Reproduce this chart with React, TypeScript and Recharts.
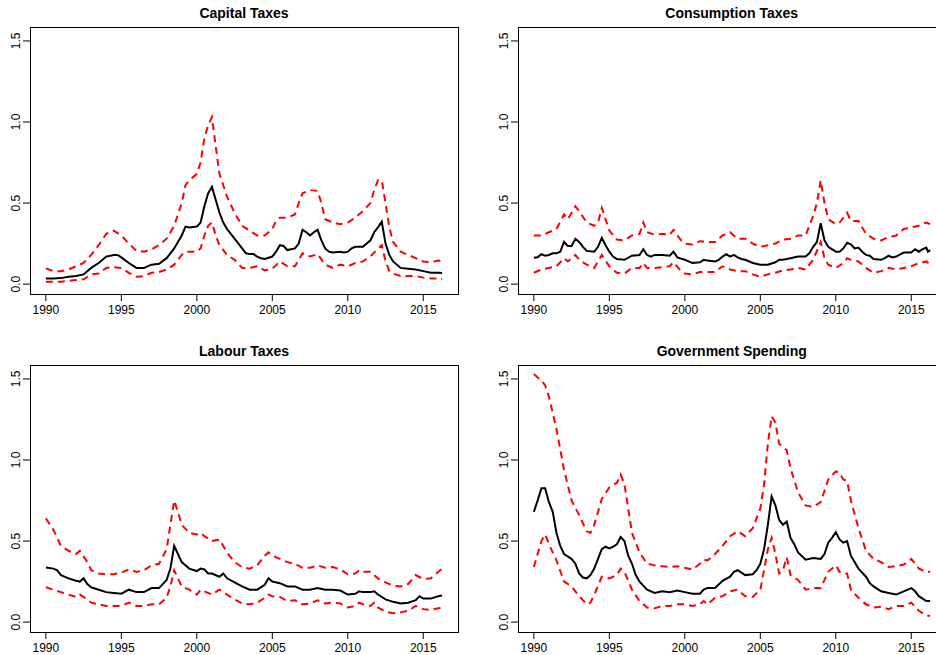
import React from "react"
import { LineChart, Line, XAxis, YAxis } from "recharts"

type Pt = [number, number]

const xTicks = [1990, 1995, 2000, 2005, 2010, 2015]
const yTicks = [0, 0.5, 1, 1.5]
const yTickLabels = ["0.0", "0.5", "1.0", "1.5"]
const xDomain: [number, number] = [1988.95, 2017.3]
const yDomain: [number, number] = [-0.061, 1.586]

const capitalMid: Pt[] = [
  [1990, 0.035], [1990.5, 0.035], [1991, 0.037], [1991.5, 0.045], [1992, 0.05], [1992.5, 0.06], [1993, 0.1], [1993.5, 0.13],
  [1994, 0.17], [1994.5, 0.18], [1994.75, 0.18], [1995, 0.165], [1995.5, 0.13], [1996, 0.1], [1996.5, 0.1], [1997, 0.12],
  [1997.5, 0.125], [1998, 0.16], [1998.5, 0.22], [1999, 0.3], [1999.25, 0.355], [1999.5, 0.35], [2000, 0.355], [2000.25, 0.38],
  [2000.5, 0.48], [2000.75, 0.56], [2001, 0.6], [2001.25, 0.52], [2001.5, 0.44], [2001.75, 0.38], [2002, 0.34], [2002.5, 0.28],
  [2003, 0.22], [2003.25, 0.19], [2003.5, 0.185], [2003.75, 0.185], [2004, 0.17], [2004.25, 0.16], [2004.5, 0.155], [2005, 0.17],
  [2005.25, 0.2], [2005.5, 0.24], [2005.75, 0.235], [2006, 0.21], [2006.5, 0.22], [2006.75, 0.25], [2007, 0.335], [2007.25, 0.32],
  [2007.5, 0.3], [2007.75, 0.32], [2008, 0.335], [2008.25, 0.27], [2008.5, 0.22], [2008.75, 0.2], [2009, 0.195], [2009.5, 0.2],
  [2009.75, 0.195], [2010, 0.2], [2010.25, 0.22], [2010.5, 0.23], [2011, 0.23], [2011.5, 0.27], [2011.75, 0.32], [2012, 0.35],
  [2012.25, 0.385], [2012.5, 0.25], [2012.75, 0.18], [2013, 0.14], [2013.5, 0.1], [2014, 0.095], [2014.5, 0.09], [2015, 0.08],
  [2015.5, 0.07], [2016, 0.07], [2016.25, 0.068],
]
const capitalHigh: Pt[] = [
  [1990, 0.097], [1990.5, 0.08], [1991, 0.08], [1991.5, 0.09], [1992, 0.11], [1992.5, 0.13], [1993, 0.18], [1993.5, 0.24],
  [1994, 0.31], [1994.5, 0.33], [1995, 0.3], [1995.5, 0.25], [1996, 0.205], [1996.5, 0.2], [1997, 0.215], [1997.5, 0.24],
  [1998, 0.28], [1998.5, 0.36], [1999, 0.5], [1999.25, 0.61], [1999.5, 0.64], [2000, 0.68], [2000.25, 0.75], [2000.5, 0.9],
  [2000.75, 0.98], [2001, 1.03], [2001.25, 0.85], [2001.5, 0.68], [2002, 0.54], [2002.5, 0.44], [2003, 0.36], [2003.5, 0.33],
  [2004, 0.3], [2004.5, 0.3], [2005, 0.34], [2005.25, 0.39], [2005.5, 0.41], [2006, 0.41], [2006.5, 0.43], [2006.75, 0.5],
  [2007, 0.56], [2007.5, 0.58], [2008, 0.575], [2008.25, 0.5], [2008.5, 0.4], [2009, 0.38], [2009.5, 0.37], [2010, 0.38],
  [2010.5, 0.41], [2011, 0.45], [2011.5, 0.5], [2011.75, 0.58], [2012, 0.64], [2012.25, 0.64], [2012.5, 0.5], [2012.75, 0.35],
  [2013, 0.26], [2013.5, 0.2], [2014, 0.18], [2014.5, 0.16], [2015, 0.14], [2015.5, 0.135], [2016, 0.145], [2016.25, 0.14],
]
const capitalLow: Pt[] = [
  [1990, 0.015], [1991, 0.015], [1991.5, 0.02], [1992, 0.025], [1992.5, 0.03], [1993, 0.06], [1993.5, 0.065], [1994, 0.1],
  [1994.5, 0.105], [1995, 0.1], [1995.5, 0.07], [1996, 0.045], [1996.5, 0.05], [1997, 0.07], [1997.5, 0.075], [1998, 0.09],
  [1998.5, 0.12], [1999, 0.18], [1999.25, 0.2], [1999.5, 0.2], [2000, 0.2], [2000.25, 0.22], [2000.5, 0.3], [2000.75, 0.36],
  [2001, 0.38], [2001.25, 0.3], [2001.5, 0.24], [2002, 0.18], [2002.5, 0.15], [2003, 0.1], [2003.5, 0.1], [2004, 0.11],
  [2004.5, 0.085], [2005, 0.095], [2005.5, 0.14], [2006, 0.11], [2006.5, 0.11], [2007, 0.19], [2007.5, 0.17], [2008, 0.185],
  [2008.5, 0.12], [2009, 0.1], [2009.5, 0.12], [2010, 0.11], [2010.5, 0.13], [2011, 0.14], [2011.5, 0.17], [2012, 0.22],
  [2012.25, 0.24], [2012.5, 0.14], [2012.75, 0.08], [2013, 0.065], [2013.5, 0.05], [2014, 0.05], [2014.5, 0.05], [2015, 0.04],
  [2015.5, 0.035], [2016, 0.035], [2016.25, 0.03],
]

const consumptionMid: Pt[] = [
  [1990, 0.163], [1990.25, 0.165], [1990.5, 0.185], [1990.75, 0.175], [1991, 0.18], [1991.25, 0.19], [1991.5, 0.19], [1991.75, 0.2],
  [1992, 0.26], [1992.25, 0.235], [1992.5, 0.235], [1992.75, 0.28], [1993, 0.26], [1993.25, 0.23], [1993.5, 0.205], [1994, 0.2],
  [1994.25, 0.23], [1994.5, 0.285], [1994.75, 0.24], [1995, 0.2], [1995.25, 0.17], [1995.5, 0.155], [1996, 0.15], [1996.5, 0.175],
  [1997, 0.18], [1997.25, 0.215], [1997.5, 0.18], [1997.75, 0.17], [1998, 0.18], [1998.5, 0.18], [1999, 0.175], [1999.25, 0.2],
  [1999.5, 0.165], [2000, 0.15], [2000.25, 0.14], [2000.5, 0.13], [2001, 0.135], [2001.25, 0.15], [2001.5, 0.145], [2002, 0.14],
  [2002.25, 0.15], [2002.5, 0.17], [2002.75, 0.185], [2003, 0.17], [2003.25, 0.18], [2003.5, 0.165], [2003.75, 0.155], [2004, 0.15],
  [2004.5, 0.13], [2005, 0.12], [2005.5, 0.12], [2006, 0.135], [2006.25, 0.15], [2006.5, 0.15], [2007, 0.16], [2007.5, 0.17],
  [2008, 0.17], [2008.25, 0.19], [2008.5, 0.23], [2008.75, 0.26], [2009, 0.375], [2009.25, 0.27], [2009.5, 0.23], [2010, 0.2],
  [2010.25, 0.2], [2010.5, 0.22], [2010.75, 0.255], [2011, 0.245], [2011.25, 0.22], [2011.5, 0.225], [2011.75, 0.2], [2012, 0.18],
  [2012.25, 0.175], [2012.5, 0.155], [2013, 0.15], [2013.25, 0.16], [2013.5, 0.175], [2013.75, 0.165], [2014, 0.17], [2014.5, 0.195],
  [2015, 0.195], [2015.25, 0.215], [2015.5, 0.2], [2015.75, 0.215], [2016, 0.225], [2016.1, 0.2], [2016.25, 0.21],
]
const consumptionHigh: Pt[] = [
  [1990, 0.3], [1990.5, 0.3], [1991, 0.32], [1991.5, 0.34], [1992, 0.43], [1992.25, 0.4], [1992.75, 0.48], [1993, 0.45],
  [1993.5, 0.38], [1994, 0.36], [1994.25, 0.38], [1994.5, 0.47], [1994.75, 0.4], [1995, 0.33], [1995.5, 0.275], [1996, 0.27],
  [1996.5, 0.3], [1997, 0.31], [1997.25, 0.38], [1997.5, 0.32], [1998, 0.305], [1998.5, 0.31], [1999, 0.305], [1999.25, 0.335],
  [1999.75, 0.27], [2000, 0.25], [2000.5, 0.245], [2001, 0.265], [2001.5, 0.26], [2002, 0.26], [2002.5, 0.3], [2003, 0.32],
  [2003.5, 0.28], [2004, 0.28], [2004.5, 0.25], [2005, 0.23], [2005.5, 0.24], [2006, 0.25], [2006.5, 0.275], [2007, 0.28],
  [2007.5, 0.3], [2008, 0.3], [2008.5, 0.42], [2008.75, 0.5], [2009, 0.64], [2009.25, 0.5], [2009.5, 0.4], [2010, 0.37],
  [2010.25, 0.38], [2010.75, 0.44], [2011, 0.39], [2011.5, 0.39], [2012, 0.31], [2012.5, 0.28], [2013, 0.27], [2013.5, 0.29],
  [2014, 0.3], [2014.5, 0.34], [2015, 0.35], [2015.5, 0.36], [2016, 0.38], [2016.25, 0.37],
]
const consumptionLow: Pt[] = [
  [1990, 0.07], [1990.5, 0.09], [1991, 0.1], [1991.5, 0.11], [1992, 0.16], [1992.25, 0.14], [1992.75, 0.18], [1993, 0.15],
  [1993.5, 0.12], [1994, 0.1], [1994.5, 0.18], [1995, 0.11], [1995.5, 0.07], [1996, 0.065], [1996.5, 0.1], [1997, 0.1],
  [1997.25, 0.13], [1997.5, 0.1], [1998, 0.1], [1998.5, 0.105], [1999, 0.11], [1999.25, 0.135], [1999.75, 0.08], [2000, 0.065],
  [2000.5, 0.06], [2001, 0.075], [2001.5, 0.075], [2002, 0.075], [2002.5, 0.11], [2003, 0.09], [2003.5, 0.08], [2004, 0.08],
  [2004.5, 0.06], [2005, 0.045], [2005.5, 0.06], [2006, 0.07], [2006.5, 0.085], [2007, 0.09], [2007.5, 0.1], [2008, 0.09],
  [2008.5, 0.15], [2009, 0.26], [2009.25, 0.16], [2009.5, 0.12], [2010, 0.1], [2010.5, 0.13], [2010.75, 0.16], [2011, 0.15],
  [2011.5, 0.14], [2012, 0.1], [2012.5, 0.07], [2013, 0.08], [2013.5, 0.1], [2014, 0.09], [2014.5, 0.1], [2015, 0.11],
  [2015.5, 0.13], [2016, 0.14], [2016.25, 0.12],
]

const labourMid: Pt[] = [
  [1990, 0.337], [1990.5, 0.33], [1990.75, 0.32], [1991, 0.29], [1991.5, 0.27], [1992, 0.255], [1992.25, 0.25], [1992.5, 0.27],
  [1992.75, 0.235], [1993, 0.215], [1993.5, 0.2], [1994, 0.185], [1994.5, 0.18], [1995, 0.175], [1995.5, 0.2], [1996, 0.185],
  [1996.5, 0.185], [1997, 0.21], [1997.5, 0.21], [1998, 0.26], [1998.25, 0.33], [1998.5, 0.47], [1998.75, 0.42], [1999, 0.37],
  [1999.5, 0.33], [2000, 0.315], [2000.25, 0.33], [2000.5, 0.325], [2000.75, 0.3], [2001, 0.3], [2001.5, 0.28], [2001.75, 0.3],
  [2002, 0.27], [2002.5, 0.245], [2003, 0.22], [2003.5, 0.2], [2004, 0.2], [2004.5, 0.23], [2004.75, 0.27], [2005, 0.25],
  [2005.5, 0.24], [2006, 0.22], [2006.5, 0.22], [2007, 0.2], [2007.5, 0.2], [2008, 0.21], [2008.5, 0.2], [2009, 0.2],
  [2009.5, 0.195], [2010, 0.17], [2010.5, 0.175], [2010.75, 0.19], [2011, 0.185], [2011.5, 0.185], [2011.75, 0.19], [2012, 0.17],
  [2012.5, 0.14], [2013, 0.125], [2013.5, 0.115], [2014, 0.12], [2014.5, 0.135], [2014.75, 0.16], [2015, 0.145], [2015.5, 0.145],
  [2016, 0.16], [2016.25, 0.165],
]
const labourHigh: Pt[] = [
  [1990, 0.64], [1990.5, 0.57], [1991, 0.47], [1991.5, 0.44], [1992, 0.42], [1992.25, 0.44], [1992.75, 0.37], [1993, 0.32],
  [1993.5, 0.3], [1994, 0.295], [1994.5, 0.295], [1995, 0.305], [1995.5, 0.325], [1996, 0.31], [1996.5, 0.32], [1997, 0.35],
  [1997.5, 0.36], [1998, 0.45], [1998.25, 0.6], [1998.5, 0.75], [1998.75, 0.68], [1999, 0.6], [1999.5, 0.55], [2000, 0.54],
  [2000.25, 0.55], [2000.5, 0.53], [2001, 0.5], [2001.5, 0.51], [2002, 0.43], [2002.5, 0.37], [2003, 0.34], [2003.5, 0.33],
  [2004, 0.35], [2004.5, 0.41], [2004.75, 0.43], [2005, 0.41], [2005.5, 0.39], [2006, 0.37], [2006.5, 0.36], [2007, 0.335],
  [2007.5, 0.335], [2008, 0.35], [2008.5, 0.335], [2009, 0.34], [2009.5, 0.325], [2010, 0.295], [2010.5, 0.3], [2010.75, 0.32],
  [2011, 0.31], [2011.5, 0.31], [2012, 0.27], [2012.5, 0.245], [2013, 0.225], [2013.5, 0.22], [2014, 0.235], [2014.5, 0.29],
  [2015, 0.265], [2015.5, 0.27], [2016, 0.31], [2016.25, 0.33],
]
const labourLow: Pt[] = [
  [1990, 0.215], [1990.5, 0.2], [1991, 0.185], [1991.5, 0.17], [1992, 0.155], [1992.25, 0.17], [1992.75, 0.14], [1993, 0.12],
  [1993.5, 0.11], [1994, 0.1], [1994.5, 0.1], [1995, 0.1], [1995.5, 0.12], [1996, 0.1], [1996.5, 0.1], [1997, 0.11],
  [1997.5, 0.11], [1998, 0.15], [1998.25, 0.22], [1998.5, 0.32], [1998.75, 0.27], [1999, 0.22], [1999.5, 0.2], [2000, 0.17],
  [2000.25, 0.2], [2000.5, 0.19], [2001, 0.17], [2001.5, 0.2], [2002, 0.17], [2002.5, 0.14], [2003, 0.115], [2003.5, 0.11],
  [2004, 0.12], [2004.5, 0.15], [2004.75, 0.17], [2005, 0.16], [2005.5, 0.155], [2006, 0.13], [2006.5, 0.135], [2007, 0.11],
  [2007.5, 0.115], [2008, 0.135], [2008.5, 0.115], [2009, 0.12], [2009.5, 0.115], [2010, 0.09], [2010.5, 0.1], [2010.75, 0.12],
  [2011, 0.11], [2011.5, 0.1], [2011.75, 0.12], [2012, 0.09], [2012.5, 0.065], [2013, 0.055], [2013.5, 0.06], [2014, 0.07],
  [2014.5, 0.1], [2015, 0.08], [2015.5, 0.075], [2016, 0.085], [2016.25, 0.09],
]

const spendingMid: Pt[] = [
  [1990, 0.68], [1990.25, 0.75], [1990.5, 0.825], [1990.75, 0.825], [1991, 0.74], [1991.25, 0.68], [1991.5, 0.55], [1991.75, 0.47],
  [1992, 0.42], [1992.5, 0.39], [1992.75, 0.36], [1993, 0.3], [1993.25, 0.275], [1993.5, 0.27], [1993.75, 0.29], [1994, 0.33],
  [1994.25, 0.39], [1994.5, 0.45], [1994.75, 0.465], [1995, 0.455], [1995.25, 0.465], [1995.5, 0.48], [1995.75, 0.525], [1996, 0.5],
  [1996.25, 0.41], [1996.5, 0.36], [1996.75, 0.29], [1997, 0.25], [1997.5, 0.2], [1998, 0.18], [1998.5, 0.19], [1999, 0.185],
  [1999.5, 0.195], [2000, 0.185], [2000.5, 0.175], [2001, 0.175], [2001.25, 0.2], [2001.5, 0.21], [2002, 0.21], [2002.5, 0.255],
  [2003, 0.28], [2003.25, 0.31], [2003.5, 0.32], [2004, 0.29], [2004.5, 0.295], [2004.75, 0.32], [2005, 0.36], [2005.25, 0.45],
  [2005.5, 0.6], [2005.75, 0.775], [2006, 0.72], [2006.25, 0.63], [2006.5, 0.6], [2006.75, 0.62], [2007, 0.52], [2007.25, 0.48],
  [2007.5, 0.43], [2008, 0.385], [2008.5, 0.395], [2009, 0.39], [2009.25, 0.42], [2009.5, 0.49], [2009.75, 0.52], [2010, 0.555],
  [2010.25, 0.51], [2010.5, 0.49], [2010.75, 0.5], [2011, 0.41], [2011.5, 0.33], [2012, 0.28], [2012.25, 0.24], [2012.5, 0.22],
  [2013, 0.19], [2013.5, 0.18], [2014, 0.17], [2014.5, 0.19], [2015, 0.21], [2015.25, 0.19], [2015.5, 0.16], [2016, 0.13],
  [2016.25, 0.13],
]
const spendingHigh: Pt[] = [
  [1990, 1.53], [1990.5, 1.49], [1990.75, 1.46], [1991, 1.39], [1991.5, 1.19], [1992, 0.94], [1992.5, 0.75], [1993, 0.66],
  [1993.5, 0.56], [1993.75, 0.55], [1994, 0.6], [1994.5, 0.76], [1995, 0.83], [1995.5, 0.86], [1995.75, 0.91], [1996, 0.85],
  [1996.25, 0.7], [1996.5, 0.55], [1997, 0.43], [1997.5, 0.36], [1998, 0.35], [1998.5, 0.345], [1999, 0.34], [1999.5, 0.345],
  [2000, 0.335], [2000.5, 0.325], [2001, 0.36], [2001.25, 0.385], [2001.5, 0.38], [2002, 0.42], [2002.5, 0.47], [2003, 0.53],
  [2003.5, 0.56], [2004, 0.53], [2004.5, 0.58], [2005, 0.7], [2005.25, 0.85], [2005.5, 1.1], [2005.75, 1.27], [2006, 1.23],
  [2006.25, 1.1], [2006.5, 1.08], [2006.75, 1.06], [2007, 0.95], [2007.5, 0.8], [2008, 0.72], [2008.5, 0.71], [2009, 0.74],
  [2009.5, 0.88], [2010, 0.93], [2010.25, 0.92], [2010.5, 0.88], [2010.75, 0.87], [2011, 0.75], [2011.5, 0.58], [2012, 0.44],
  [2012.5, 0.39], [2013, 0.37], [2013.5, 0.34], [2014, 0.345], [2014.5, 0.355], [2015, 0.39], [2015.25, 0.36], [2015.5, 0.33],
  [2016, 0.31], [2016.25, 0.31],
]
const spendingLow: Pt[] = [
  [1990, 0.34], [1990.5, 0.5], [1990.75, 0.54], [1991, 0.48], [1991.5, 0.38], [1992, 0.25], [1992.5, 0.22], [1993, 0.16],
  [1993.5, 0.11], [1993.75, 0.12], [1994, 0.17], [1994.5, 0.28], [1995, 0.27], [1995.5, 0.29], [1995.75, 0.33], [1996, 0.31],
  [1996.5, 0.2], [1997, 0.13], [1997.5, 0.09], [1998, 0.085], [1998.5, 0.1], [1999, 0.1], [1999.5, 0.11], [2000, 0.11],
  [2000.5, 0.1], [2001, 0.11], [2001.25, 0.13], [2001.5, 0.11], [2002, 0.15], [2002.5, 0.16], [2003, 0.19], [2003.5, 0.2],
  [2004, 0.16], [2004.5, 0.155], [2005, 0.2], [2005.25, 0.32], [2005.5, 0.45], [2005.75, 0.52], [2006, 0.42], [2006.25, 0.3],
  [2006.5, 0.32], [2006.75, 0.4], [2007, 0.29], [2007.5, 0.26], [2008, 0.2], [2008.5, 0.21], [2009, 0.21], [2009.5, 0.31],
  [2010, 0.35], [2010.25, 0.31], [2010.5, 0.3], [2010.75, 0.3], [2011, 0.2], [2011.5, 0.15], [2012, 0.11], [2012.5, 0.09],
  [2013, 0.095], [2013.5, 0.08], [2014, 0.1], [2014.5, 0.1], [2015, 0.12], [2015.5, 0.07], [2016, 0.04], [2016.25, 0.04],
]

const FONT = "'Liberation Sans', Arial, Helvetica, sans-serif"

// plot box inside each 468x327 panel
const BOX_LEFT = 30
const BOX_TOP = 27
const BOX_W = 428
const BOX_H = 267
const TICK_LEN = 7

const toRows = (pts: Pt[]) => pts.map(([x, y]) => ({ x, y }))

function XTick(props: any) {
  const { x, payload } = props
  const y0 = BOX_TOP + BOX_H
  return (
    <g>
      <line x1={x} x2={x} y1={y0} y2={y0 + TICK_LEN} stroke="#000" strokeWidth={1} />
      <text x={x} y={y0 + 20} textAnchor="middle" fontSize={12} fontFamily={FONT} fill="#000">
        {payload.value}
      </text>
    </g>
  )
}

function YTick(props: any) {
  const { y, index } = props
  return (
    <g>
      <line x1={BOX_LEFT - TICK_LEN} x2={BOX_LEFT} y1={y} y2={y} stroke="#000" strokeWidth={1} />
      <text
        transform={`translate(19.5, ${y}) rotate(-90)`}
        textAnchor="middle"
        fontSize={12}
        fontFamily={FONT}
        fill="#000"
      >
        {yTickLabels[index]}
      </text>
    </g>
  )
}

function Panel({ title, left, top, mid, low, high }: { title: string; left: number; top: number; mid: Pt[]; low: Pt[]; high: Pt[] }) {
  return (
    <div style={{ position: "absolute", left, top, width: 468, height: 327 }}>
      <div
        style={{
          position: "absolute", left: BOX_LEFT, top: 5, width: BOX_W, textAlign: "center",
          fontFamily: FONT, fontWeight: "bold", fontSize: 14, lineHeight: "16px", color: "#000",
        }}
      >
        {title}
      </div>
      <LineChart width={468} height={327} margin={{ top: BOX_TOP, right: 468 - BOX_LEFT - BOX_W, bottom: 3, left: 0 }}>
        <XAxis
          type="number" dataKey="x" domain={xDomain} allowDataOverflow ticks={xTicks} interval={0}
          height={30} tickLine={false} axisLine={false} tick={<XTick />}
        />
        <YAxis
          type="number" domain={yDomain} allowDataOverflow ticks={yTicks} interval={0}
          width={BOX_LEFT} tickLine={false} axisLine={false} tick={<YTick />}
        />
        <Line data={toRows(mid)} dataKey="y" type="linear" stroke="#000" strokeWidth={2} dot={false} isAnimationActive={false} />
        <Line data={toRows(high)} dataKey="y" type="linear" stroke="#ff0000" strokeWidth={2} strokeDasharray="7 5" dot={false} isAnimationActive={false} />
        <Line data={toRows(low)} dataKey="y" type="linear" stroke="#ff0000" strokeWidth={2} strokeDasharray="7 5" dot={false} isAnimationActive={false} />
      </LineChart>
      <div
        style={{
          position: "absolute", left: BOX_LEFT, top: BOX_TOP, width: BOX_W + 1, height: BOX_H + 1,
          boxSizing: "border-box", border: "1px solid #000", pointerEvents: "none",
        }}
      />
    </div>
  )
}

export default function App() {
  return (
    <div style={{ position: "absolute", left: 0, top: 0, width: 936, height: 655, overflow: "hidden", background: "#fff" }}>
      <Panel title="Capital Taxes" left={0} top={0} mid={capitalMid} low={capitalLow} high={capitalHigh} />
      <Panel title="Consumption Taxes" left={487.7} top={0} mid={consumptionMid} low={consumptionLow} high={consumptionHigh} />
      <Panel title="Labour Taxes" left={0} top={338} mid={labourMid} low={labourLow} high={labourHigh} />
      <Panel title="Government Spending" left={487.7} top={338} mid={spendingMid} low={spendingLow} high={spendingHigh} />
    </div>
  )
}
